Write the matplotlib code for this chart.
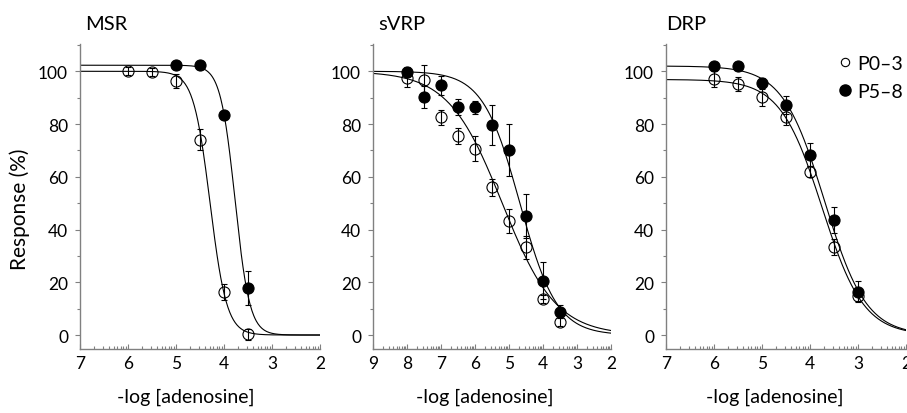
import matplotlib
matplotlib.use("Agg")
import matplotlib.pyplot as plt
from matplotlib.lines import Line2D
import numpy as np

plt.rcParams['font.family'] = ['Lato', 'DejaVu Sans']
plt.rcParams['font.size'] = 12

# MSR
msr_x_p03 = [6, 5.5, 5, 4.5, 4, 3.5]
msr_p03 = [100, 99.7, 96.3, 74, 16.3, 0.3]
msr_p03_err = [1.5, 1.5, 2.5, 4, 3, 2]
msr_x_p58 = [5, 4.5, 4, 3.5]
msr_p58 = [102.3, 102.3, 83.5, 17.7]
msr_p58_err = [1.5, 1, 1.5, 6.5]

# sVRP
svrp_x = [8, 7.5, 7, 6.5, 6, 5.5, 5, 4.5, 4, 3.5]
svrp_p03 = [97.6, 96.6, 82.5, 75.4, 70.6, 56, 43.3, 33.2, 13.7, 4.9]
svrp_p03_err = [3.5, 5.8, 3, 3, 4.8, 3.3, 4.5, 4.2, 1.5, 1.5]
svrp_p58 = [99.7, 90.3, 94.7, 86.5, 86.3, 79.7, 70.2, 45, 20.5, 8.9]
svrp_p58_err = [2, 4.3, 3.5, 3, 2.5, 7.5, 10, 8.3, 7, 2.5]

# DRP
drp_x = [6, 5.5, 5, 4.5, 4, 3.5, 3]
drp_p03 = [97.2, 95.1, 90.1, 82.8, 62, 33.5, 14.8]
drp_p03_err = [3, 2.7, 3.4, 3, 2, 3, 2]
drp_p58 = [102, 102, 95.4, 87.3, 68.4, 43.7, 16.5]
drp_p58_err = [1.5, 1.5, 2, 3.5, 4.3, 5, 3.8]

# fitted sigmoid parameters: top, bottom, -log IC50, hill slope
msr_fit_p03 = (100, 0, 4.29, 2.5)
msr_fit_p58 = (102.3, 0, 3.77, 2.85)
svrp_fit_p03 = (100, 0, 5.2, 0.55)
svrp_fit_p58 = (100, 0, 4.68, 0.8)
drp_fit_p03 = (96.9, 0, 3.75, 1.0)
drp_fit_p58 = (102, 0, 3.7, 1.0)

titles = ["MSR", "sVRP", "DRP"]
xlims = [(7, 2), (9, 2), (7, 2)]


def hill(x, fit):
    top, bottom, p50, n = fit
    return bottom + (top - bottom) / (1 + 10 ** (n * (p50 - x)))


def panel(ax, xlim, x1, y1, e1, x2, y2, e2, fit1, fit2):
    xs = np.linspace(xlim[0], xlim[1], 400)
    ax.plot(xs, hill(xs, fit1), color='black', lw=0.8, zorder=2)
    ax.plot(xs, hill(xs, fit2), color='black', lw=0.8, zorder=2)
    ax.errorbar(x1, y1, yerr=e1, fmt='o', ms=8, mfc='none', mec='black',
                mew=0.8, ecolor='black', elinewidth=0.8, capsize=2,
                capthick=0.8, zorder=3)
    ax.errorbar(x2, y2, yerr=e2, fmt='o', ms=8, mfc='black', mec='black',
                mew=0.8, ecolor='black', elinewidth=0.8, capsize=2,
                capthick=0.8, zorder=3)
    ax.set_xlim(xlim)
    ax.set_ylim(-5.3, 110.5)
    ax.set_yticks([0, 20, 40, 60, 80, 100])
    ax.set_yticks([10, 30, 50, 70, 90, 110], minor=True)
    major = list(range(xlim[1], xlim[0] + 1))
    minor = []
    for i in major[1:]:
        for k in range(2, 10):
            minor.append(i - np.log10(k))
    ax.set_xticks(major)
    ax.set_xticks(minor, minor=True)
    for s in ['top', 'right']:
        ax.spines[s].set_visible(False)
    for s in ['left', 'bottom']:
        ax.spines[s].set_color('#808080')
        ax.spines[s].set_linewidth(1.0)
    ax.tick_params(axis='y', which='major', direction='out', length=3.6,
                   width=0.8, color='#808080', pad=5, labelsize=12.5)
    ax.tick_params(axis='y', which='minor', direction='out', length=2.2,
                   width=0.8, color='#808080')
    ax.tick_params(axis='x', which='major', direction='in', length=3.5,
                   width=0.8, color='#808080', pad=4, labelsize=12.5)
    ax.tick_params(axis='x', which='minor', direction='in', length=2,
                   width=0.8, color='#808080')


fig = plt.figure(figsize=(9.07, 4.14), dpi=100)
W, H = 907, 414
lefts = [80, 373, 666]
rights = [320, 611, 906]
top_px, bot_px = 44.6, 350
axes = []
for l, r in zip(lefts, rights):
    axes.append(fig.add_axes([l / W, 1 - bot_px / H, (r - l) / W,
                              (bot_px - top_px) / H]))

panel(axes[0], xlims[0], msr_x_p03, msr_p03, msr_p03_err,
      msr_x_p58, msr_p58, msr_p58_err, msr_fit_p03, msr_fit_p58)
panel(axes[1], xlims[1], svrp_x, svrp_p03, svrp_p03_err,
      svrp_x, svrp_p58, svrp_p58_err, svrp_fit_p03, svrp_fit_p58)
panel(axes[2], xlims[2], drp_x, drp_p03, drp_p03_err,
      drp_x, drp_p58, drp_p58_err, drp_fit_p03, drp_fit_p58)

title_x = [85, 378, 666]
label_cx = [186, 485, 775]
for i, ax in enumerate(axes):
    fig.text(title_x[i] / W, 1 - 25 / H, titles[i], ha='left', va='center',
             fontsize=14.5)
    fig.text(label_cx[i] / W, 1 - 397 / H, "-log [adenosine]", ha='center',
             va='center', fontsize=14)

fig.text(20 / W, 1 - 209 / H, "Response (%)", rotation=90, ha='center',
         va='center', fontsize=15)

handles = [Line2D([], [], ls='none', marker='o', ms=6, mfc='none',
                  mec='black', mew=0.8),
           Line2D([], [], ls='none', marker='o', ms=8, mfc='black',
                  mec='black')]
axes[2].legend(handles, ["P0\u20133", "P5\u20138"], loc='upper right',
               bbox_to_anchor=(1.035, 1.0), frameon=False, handlelength=0.6,
               handletextpad=0.3, labelspacing=0.55, borderaxespad=0.2,
               fontsize=14)

fig.savefig("out.png", dpi=100)
